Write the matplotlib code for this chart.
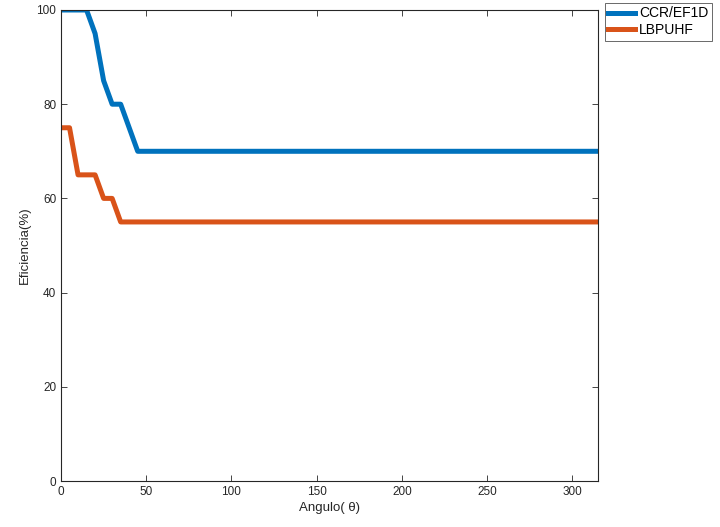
import matplotlib
matplotlib.use("Agg")
import matplotlib.pyplot as plt
import numpy as np

plt.rcParams['font.family'] = ['Liberation Sans', 'DejaVu Sans']

# angle values, 0:5:315
angulo = np.arange(0, 320, 5)
ccr_head = [100, 100, 100, 100, 95, 85, 80, 80, 75, 70]
lbp_head = [75, 75, 65, 65, 65, 60, 60, 55]
ccr = ccr_head + [70] * (len(angulo) - len(ccr_head))
lbp = lbp_head + [55] * (len(angulo) - len(lbp_head))

fig = plt.figure(figsize=(7.2, 5.27), dpi=100)
ax = fig.add_axes([61 / 720, 46 / 527, 537 / 720, 471 / 527])

ax.plot(angulo, ccr, color='#0072BD', lw=3.6, label='CCR/EF1D')
ax.plot(angulo, lbp, color='#D95319', lw=3.6, label='LBPUHF')

ax.set_xlim(0, 315)
ax.set_ylim(0, 100)
ax.set_xticks([0, 50, 100, 150, 200, 250, 300])
ax.set_yticks([0, 20, 40, 60, 80, 100])
ax.tick_params(direction='in', top=True, right=True, labelsize=8.5,
               colors='#262626', length=4, width=0.6)
for s in ax.spines.values():
    s.set_color('#262626')
    s.set_linewidth(0.8)

ax.set_xlabel('Angulo( θ)', fontsize=9.5, color='#262626', labelpad=3)
ax.set_ylabel('Eficiencia(%)', fontsize=9.5, color='#262626', labelpad=4)

leg = ax.legend(loc='upper left', bbox_to_anchor=(1.013, 1.015), fontsize=10,
                frameon=True, fancybox=False, edgecolor='#262626',
                handlelength=1.9, handletextpad=0.3, borderpad=0.25,
                labelspacing=0.2, borderaxespad=0)
leg.get_frame().set_linewidth(0.6)

fig.savefig('out.png', dpi=100)
